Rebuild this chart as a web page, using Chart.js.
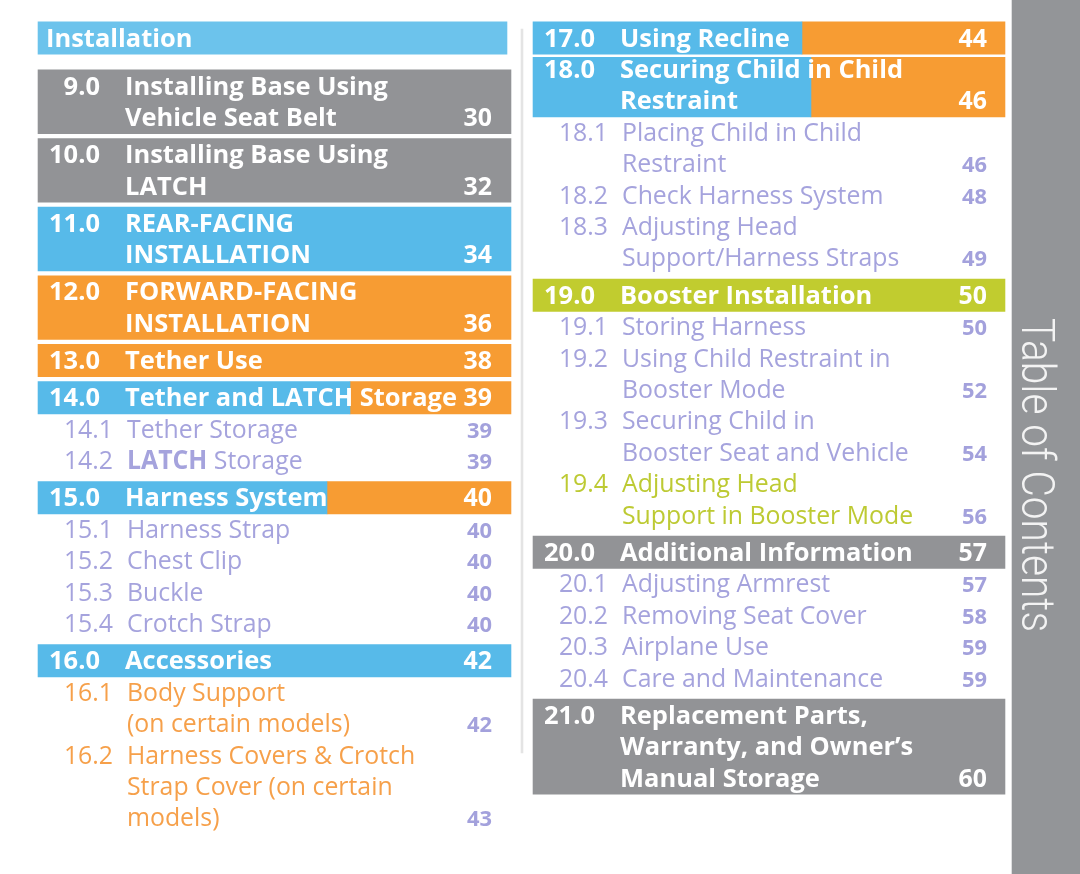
<!DOCTYPE html>
<html>
<head>
<meta charset="utf-8">
<script src="https://cdn.jsdelivr.net/npm/chart.js@4.4.1/dist/chart.umd.min.js"></script>
<style>
  html, body { margin: 0; padding: 0; background: #fff; }
  canvas { display: block; }
</style>
</head>
<body>
<canvas id="toc" width="1080" height="874"></canvas>
<script>
// ---- data: left column ----
const leftNums = ['', '9.0', '10.0', '11.0', '12.0', '13.0', '14.0', '14.1', '14.2', '15.0', '15.1', '15.2', '15.3', '15.4', '16.0', '16.1', '16.2'];
const leftTitles = [
  ['Installation'],
  ['Installing Base Using', 'Vehicle Seat Belt'],
  ['Installing Base Using', 'LATCH'],
  ['REAR-FACING', 'INSTALLATION'],
  ['FORWARD-FACING', 'INSTALLATION'],
  ['Tether Use'],
  ['Tether and LATCH Storage'],
  ['Tether Storage'],
  ['**LATCH** Storage'],
  ['Harness System'],
  ['Harness Strap'],
  ['Chest Clip'],
  ['Buckle'],
  ['Crotch Strap'],
  ['Accessories'],
  ['Body Support', '(on certain models)'],
  ['Harness Covers & Crotch', 'Strap Cover (on certain', 'models)']
];
const leftPages = ['', '30', '32', '34', '36', '38', '39', '39', '39', '40', '40', '40', '40', '40', '42', '42', '43'];
const leftKinds = ['header', 'gray', 'gray', 'blue', 'orange', 'orange', 'split', 'sub', 'sub', 'split', 'sub', 'sub', 'sub', 'sub', 'blue', 'subOrange', 'subOrange'];

// ---- data: right column ----
const rightNums = ['17.0', '18.0', '18.1', '18.2', '18.3', '19.0', '19.1', '19.2', '19.3', '19.4', '20.0', '20.1', '20.2', '20.3', '20.4', '21.0'];
const rightTitles = [
  ['Using Recline'],
  ['Securing Child in Child', 'Restraint'],
  ['Placing Child in Child', 'Restraint'],
  ['Check Harness System'],
  ['Adjusting Head', 'Support/Harness Straps'],
  ['Booster Installation'],
  ['Storing Harness'],
  ['Using Child Restraint in', 'Booster Mode'],
  ['Securing Child in', 'Booster Seat and Vehicle'],
  ['Adjusting Head', 'Support in Booster Mode'],
  ['Additional Information'],
  ['Adjusting Armrest'],
  ['Removing Seat Cover'],
  ['Airplane Use'],
  ['Care and Maintenance'],
  ['Replacement Parts,', 'Warranty, and Owner\u2019s', 'Manual Storage']
];
const rightPages = ['44', '46', '46', '48', '49', '50', '50', '52', '54', '56', '57', '57', '58', '59', '59', '60'];
const rightKinds = ['split', 'split', 'sub', 'sub', 'sub', 'green', 'sub', 'sub', 'sub', 'subGreen', 'gray', 'sub', 'sub', 'sub', 'sub', 'gray'];

const sideTitle = 'Table of Contents';

// ---- layout / style ----
const W = 1080, H = 874;
const PITCH = 31.42;
const GAP = 5.8;
const colors = {
  header: '#6cc3ec', blue: '#57bae9', orange: '#f79c33', gray: '#929396', green: '#c1cc2f',
  sub: '#a5a3dd', subOrange: '#f6a04a', subGreen: '#bdca33', page: '#a3a1dc',
  side: '#939598', divider: '#e4e4e4'
};
// where the orange part of a two-tone banner starts (offset from column left)
const splitAt = {'14.0': 312, '15.0': 289, '17.0': 269, '18.0': 278};
const tightTop = {'18.0': true};

const columns = [
  {left: 38, right: 511, top: 38, nums: leftNums, titles: leftTitles, pages: leftPages, kinds: leftKinds},
  {left: 533, right: 1005, top: 38, nums: rightNums, titles: rightTitles, pages: rightPages, kinds: rightKinds}
];

function layoutColumn(col) {
  let y = col.top;
  return col.nums.map((num, i) => {
    const kind = col.kinds[i];
    const banner = !kind.startsWith('sub');
    if (i > 0) {
      if (col.kinds[i - 1] === 'header') y += 16.6;
      else if (banner && !tightTop[num]) y += GAP;
    }
    const lines = col.titles[i].map(() => { const c = y; y += PITCH; return c; });
    let top = lines[0] - PITCH / 2 - 0.5;
    const bottom = lines[lines.length - 1] + PITCH / 2 + 0.5;
    if (tightTop[num]) top += 4;
    return {num, kind, banner, lines, top, bottom, title: col.titles[i], page: col.pages[i], col};
  });
}

const rows = columns.map(layoutColumn);

// banner bars
const datasets = [];
function addBar(x0, x1, y0, y1, color) {
  datasets.push({
    data: [{x: [x0, x1], y: (y0 + y1) / 2}],
    backgroundColor: color,
    barThickness: y1 - y0,
    grouped: false,
    borderWidth: 0,
    inflateAmount: 0.3
  });
}
rows.forEach(colRows => colRows.forEach(r => {
  if (!r.banner) return;
  const L = r.col.left, R = r.kind === 'header' ? r.col.right - 4 : r.col.right;
  if (r.kind === 'split') {
    addBar(L, L + splitAt[r.num], r.top, r.bottom, colors.blue);
    addBar(L + splitAt[r.num], R, r.top, r.bottom, colors.orange);
  } else {
    addBar(L, R, r.top, r.bottom, colors[r.kind]);
  }
}));
addBar(1012, W, 0, H, colors.side);
addBar(521, 523, 29, 753, colors.divider);

const BOLD = '700 25px "Open Sans"';
const SUB = '400 26px "Open Sans"';
const SUBB = '700 26px "Open Sans"';
const PAGE = '700 22px "Open Sans"';
const SIDE = '300 46px Roboto';

function textW(ctx, s, font) { ctx.font = font; return ctx.measureText(s).width; }

function drawText(ctx, str, x, y, font, color, sx, align) {
  ctx.save();
  ctx.font = font;
  ctx.fillStyle = color;
  const w = ctx.measureText(str).width * sx;
  ctx.translate(align === 'right' ? x - w : x, y);
  ctx.scale(sx, 1);
  ctx.textAlign = 'left';
  ctx.textBaseline = 'alphabetic';
  ctx.fillText(str, 0, 0);
  ctx.restore();
  return w;
}

const tocText = {
  id: 'tocText',
  afterDatasetsDraw(chart) {
    const ctx = chart.ctx, xs = chart.scales.x, ys = chart.scales.y;
    const sxB = 263 / textW(ctx, 'Installing Base Using', BOLD);
    const sxS = 171 / textW(ctx, 'Tether Storage', SUB);
    const sxP = 25 / textW(ctx, '30', PAGE);
    const px = v => xs.getPixelForValue(v);
    rows.forEach(colRows => colRows.forEach(r => {
      const L = r.col.left;
      const base = ly => ys.getPixelForValue(ly) + 8.5;
      if (r.kind === 'header') {
        drawText(ctx, r.title[0], px(L + 8), base(r.lines[0]), BOLD, '#fff', sxB, 'left');
        return;
      }
      if (r.banner) {
        drawText(ctx, r.num, px(L + 62), base(r.lines[0]), BOLD, '#fff', sxB, 'right');
        r.title.forEach((t, k) => drawText(ctx, t, px(L + 87), base(r.lines[k]), BOLD, '#fff', sxB, 'left'));
        drawText(ctx, r.page, px(L + 454), base(r.lines[r.lines.length - 1]), BOLD, '#fff', sxP, 'right');
      } else {
        const c = colors[r.kind];
        drawText(ctx, r.num, px(L + 75), base(r.lines[0]), SUB, c, sxS, 'right');
        r.title.forEach((t, k) => {
          let x = px(L + 89);
          t.split('**').forEach((seg, j) => {
            if (seg) x += drawText(ctx, seg, x, base(r.lines[k]), j % 2 ? SUBB : SUB, c, sxS, 'left');
          });
        });
        drawText(ctx, r.page, px(L + 454), base(r.lines[r.lines.length - 1]), PAGE, colors.page, sxP, 'right');
      }
    }));
    // sidebar title, rotated
    const sxT = 314 / textW(ctx, sideTitle, SIDE);
    ctx.save();
    ctx.translate(px(1022), ys.getPixelForValue(318));
    ctx.rotate(Math.PI / 2);
    ctx.scale(sxT, 1);
    ctx.font = SIDE;
    ctx.fillStyle = '#f3f3f3';
    ctx.textAlign = 'left';
    ctx.textBaseline = 'alphabetic';
    ctx.fillText(sideTitle, 0, 0);
    ctx.restore();
  }
};

new Chart(document.getElementById('toc'), {
  type: 'bar',
  data: { datasets: datasets },
  options: {
    indexAxis: 'y',
    responsive: false,
    animation: false,
    layout: { padding: 0 },
    plugins: { legend: { display: false }, tooltip: { enabled: false } },
    scales: {
      x: { type: 'linear', min: 0, max: W, display: false, offset: false },
      y: { type: 'linear', min: 0, max: H, reverse: true, display: false, offset: false }
    }
  },
  plugins: [tocText]
});
</script>
</body>
</html>
